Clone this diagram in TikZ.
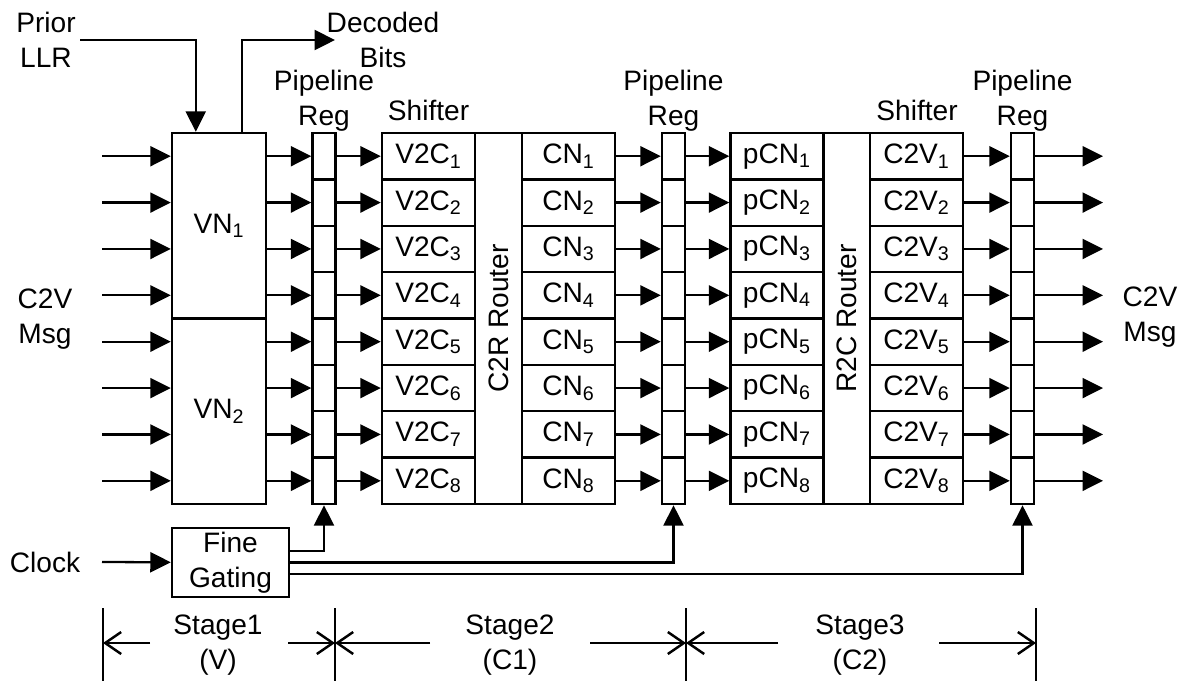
\documentclass[tikz,border=0pt]{standalone}
\usepackage{fontspec}
\setmainfont{Liberation Sans}
\usepackage{tikz}
\usetikzlibrary{arrows.meta, positioning, calc}

\begin{document}
\begin{tikzpicture}[
  x=0.02cm, y=-0.02cm,
  font=\fontsize{16}{20}\selectfont,
  blk/.style={draw=black, line width=1.4pt, inner sep=0pt, minimum height=46.375*0.02cm},
  cell/.style={blk, minimum width=93*0.02cm},
  regcell/.style={blk, minimum width=23*0.02cm},
  vnbox/.style={blk, minimum width=94*0.02cm, minimum height=185.5*0.02cm},
  router/.style={blk, minimum width=47*0.02cm, minimum height=371*0.02cm},
  arr/.style={-{Triangle[length=0.41cm, width=0.4cm]}, line width=1.3pt},
  clk/.style={arr, line width=1.25pt},
  dim/.style={-{Straight Barb[length=0.32cm, width=0.44cm]}, line width=1.4pt},
  lbl/.style={align=center, inner sep=0pt}
]
  \useasboundingbox (0,0) rectangle (1179,681);

  % Stage 1: variable nodes
  \node[vnbox] (vn1) at (219,225.75) {VN\textsubscript{1}};
  \node[vnbox] (vn2) at (219,411.25) {VN\textsubscript{2}};

  % routers
  \node[router] (c2r) at (498.5,318.5) {};
  \node[rotate=90, inner sep=0pt] (c2rtxt) at (c2r.center) {C2R Router};
  \node[router] (r2c) at (846.5,318.5) {};
  \node[rotate=90, inner sep=0pt] (r2ctxt) at (r2c.center) {R2C Router};

  % rows
  \foreach \i in {1,...,8} {
    \pgfmathsetmacro\yy{133+46.375*(\i-0.5)}
    \coordinate (in\i) at (102,\yy);
    \coordinate (out\i) at (1103,\yy);
    \node[regcell] (ra\i) at (324,\yy) {};
    \node[cell] (v2c\i) at (428.5,\yy) {V2C\textsubscript{\i}};
    \node[cell] (cn\i) at (568.5,\yy) {CN\textsubscript{\i}};
    \node[regcell] (rb\i) at (673.5,\yy) {};
    \node[cell] (pcn\i) at (777,\yy) {pCN\textsubscript{\i}};
    \node[cell] (c2v\i) at (916.5,\yy) {C2V\textsubscript{\i}};
    \node[regcell] (rc\i) at (1022.5,\yy) {};
    \draw[arr] (in\i) -- (vn1.west |- in\i);
    \draw[arr] (vn1.east |- ra\i) -- (ra\i);
    \draw[arr] (ra\i) -- (v2c\i);
    \draw[arr] (cn\i) -- (rb\i);
    \draw[arr] (rb\i) -- (pcn\i);
    \draw[arr] (c2v\i) -- (rc\i);
    \draw[arr] (rc\i) -- (out\i);
  }

  % labels
  \node[lbl] (prior) at (46,40) {Prior\\LLR};
  \node[lbl] (decoded) at (383,40) {Decoded\\Bits};
  \node[lbl] (pla) at (324,101) {Pipeline\\Reg};
  \node[lbl] (plb) at (673.5,101) {Pipeline\\Reg};
  \node[lbl] (plc) at (1022.5,101) {Pipeline\\Reg};
  \node[lbl] (shfa) at (428.5,110) {Shifter};
  \node[lbl] (shfb) at (917,110) {Shifter};
  \node[lbl] (msgin) at (45,319) {C2V\\Msg};
  \node[lbl] (msgout) at (1150,317) {C2V\\Msg};

  % LLR in, decoded bits out
  \coordinate (llr) at (80,40);
  \coordinate (bits) at (335,40);
  \draw[arr] (llr) -| ($(vn1.north west)+(25,0)$);
  \draw[arr] ($(vn1.north west)+(71,0)$) |- (bits);

  % clock gating
  \node[draw, line width=1.4pt, align=center, inner sep=0pt, minimum width=117*0.02cm, minimum height=69*0.02cm] (fg) at (230.5,562.5) {Fine\\Gating};
  \node[lbl] (clock) at (45,562) {Clock};
  \coordinate (clkin) at (102,562);
  \draw[arr] (clkin) -- (fg);
  \draw[clk] ($(fg.east)+(0,-11.5)$) -| (ra8.south);
  \draw[clk] (fg.east) -| (rb8.south);
  \draw[clk] ($(fg.east)+(0,11.5)$) -| (rc8.south);

  % pipeline stages
  \foreach \x in {103,335,686,1036}
    \draw[line width=1.4pt] (\x,608) -- (\x,681);
  \draw[dim] (150,643) -- (103,643);
  \draw[dim] (288,643) -- (335,643);
  \draw[dim] (430,643) -- (335,643);
  \draw[dim] (590,643) -- (686,643);
  \draw[dim] (778,643) -- (686,643);
  \draw[dim] (939,643) -- (1036,643);
  \node[lbl] (st1) at (218,645) {Stage1\\(V)};
  \node[lbl] (st2) at (510,645) {Stage2\\(C1)};
  \node[lbl] (st3) at (860,645) {Stage3\\(C2)};
\end{tikzpicture}
\end{document}
